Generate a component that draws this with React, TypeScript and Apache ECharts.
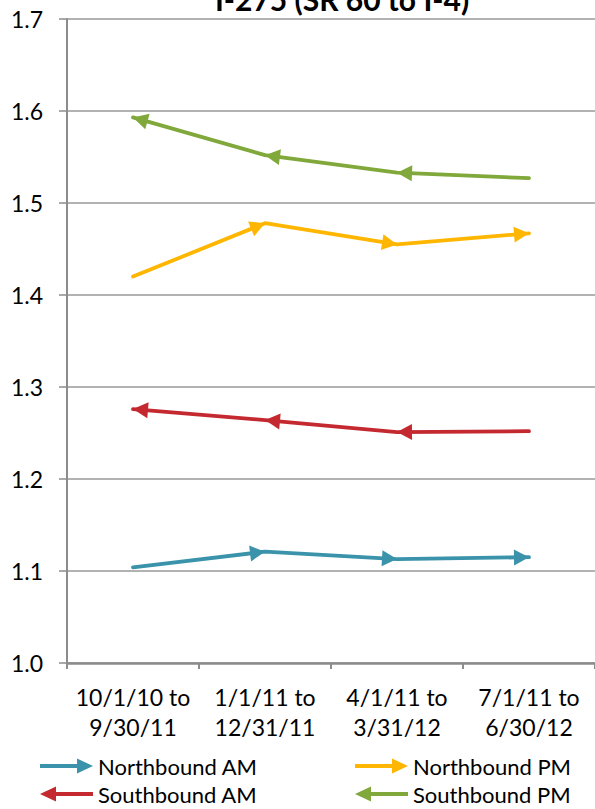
import React, { useEffect, useRef } from 'react';
import * as echarts from 'echarts';

const titleText = 'I-275 (SR 60 to I-4)';
const categories = ['10/1/10 to\n9/30/11', '1/1/11 to\n12/31/11', '4/1/11 to\n3/31/12', '7/1/11 to\n6/30/12'];
const northboundAM = [1.104, 1.121, 1.113, 1.115];
const northboundPM = [1.42, 1.478, 1.455, 1.467];
const southboundAM = [1.276, 1.264, 1.251, 1.252];
const southboundPM = [1.593, 1.552, 1.533, 1.527];
const yMin = 1.0;
const yMax = 1.7;
const yInterval = 0.1;

const seriesDefs = [
  { name: 'Northbound AM', data: northboundAM, color: '#3A93AA', dir: 'north' },
  { name: 'Northbound PM', data: northboundPM, color: '#FFB600', dir: 'north' },
  { name: 'Southbound AM', data: southboundAM, color: '#C4292F', dir: 'south' },
  { name: 'Southbound PM', data: southboundPM, color: '#80A83A', dir: 'south' },
];

const legendPos = [
  { left: 40, top: 755 },
  { left: 355, top: 755 },
  { left: 40, top: 783 },
  { left: 355, top: 783 },
];

const RIGHT_ICON = 'path://M0,5.5L37,5.5L37,0L53,7.5L37,15L37,9.5L0,9.5Z';
const LEFT_ICON = 'path://M53,5.5L16,5.5L16,0L0,7.5L16,15L16,9.5L53,9.5Z';

const FONT = 'Lato, "Open Sans", sans-serif';
const ARROW_LEN = 15;
const ARROW_W = 16;

export default function App() {
  const ref = useRef<HTMLDivElement>(null);
  useEffect(() => {
    if (!ref.current) return;
    const chart = echarts.init(ref.current, undefined, { renderer: 'svg' });
    const baseOption: any = {
      animation: false,
      grid: { left: 67, right: 0, top: 19, bottom: 146, containLabel: false },
      graphic: [
        {
          type: 'text',
          x: 342,
          y: -1,
          style: {
            text: titleText,
            font: `bold 30px ${FONT}`,
            fill: '#000',
            textAlign: 'center',
            textVerticalAlign: 'middle',
          },
        },
      ],
      xAxis: {
        type: 'category',
        data: categories,
        boundaryGap: true,
        axisLine: { show: true, lineStyle: { color: '#8c8c8c', width: 2.5 } },
        axisTick: { show: true, length: 6, alignWithLabel: false, lineStyle: { color: '#8c8c8c', width: 2 } },
        axisLabel: { fontFamily: FONT, fontSize: 23, color: '#000', lineHeight: 30, margin: 19, interval: 0 },
        splitLine: { show: false },
      },
      yAxis: {
        type: 'value',
        min: yMin,
        max: yMax,
        interval: yInterval,
        axisLine: { show: true, lineStyle: { color: '#8c8c8c', width: 2 } },
        axisTick: { show: true, length: 8, lineStyle: { color: '#8c8c8c', width: 1.5 } },
        axisLabel: {
          fontFamily: FONT,
          fontSize: 23,
          color: '#000',
          margin: 24,
          formatter: (v: number) => v.toFixed(1),
        },
        splitLine: { show: true, lineStyle: { color: '#999', width: 1.5 } },
      },
      legend: seriesDefs.map((s, i) => ({
        left: legendPos[i].left,
        top: legendPos[i].top,
        padding: 0,
        itemWidth: 53,
        itemHeight: 15,
        selectedMode: false,
        textStyle: { fontFamily: FONT, fontSize: 22, color: '#000' },
        data: [
          {
            name: s.name,
            icon: s.dir === 'north' ? RIGHT_ICON : LEFT_ICON,
            itemStyle: { color: s.color, borderWidth: 0 },
          },
        ],
      })),
      series: seriesDefs.map((s) => ({
        name: s.name,
        type: 'line',
        data: s.data.map((v) => ({ value: v, symbol: 'none' })),
        symbol: 'none',
        lineStyle: { color: s.color, width: 3.8, cap: 'round', join: 'round' },
        itemStyle: { color: s.color },
        emphasis: { disabled: true },
      })),
    };
    chart.setOption(baseOption);

    const series = seriesDefs.map((s) => ({
      name: s.name,
      data: s.data.map((v, i) => {
        const j = s.dir === 'north' ? i - 1 : i + 1;
        if (j < 0 || j >= s.data.length) return { value: v, symbol: 'none' };
        const p = chart.convertToPixel({ xAxisIndex: 0, yAxisIndex: 0 }, [i, v]) as number[];
        const q = chart.convertToPixel({ xAxisIndex: 0, yAxisIndex: 0 }, [j, s.data[j]]) as number[];
        const dx = p[0] - q[0];
        const dy = p[1] - q[1];
        const len = Math.hypot(dx, dy) || 1;
        const ux = dx / len;
        const uy = dy / len;
        const angle = (Math.atan2(-dy, dx) * 180) / Math.PI - 90;
        return {
          value: v,
          symbol: 'triangle',
          symbolSize: [ARROW_W, ARROW_LEN],
          symbolRotate: angle,
          symbolOffset: [-ux * ARROW_LEN / 2, -uy * ARROW_LEN / 2],
        };
      }),
    }));
    chart.setOption({ series });

    return () => chart.dispose();
  }, []);
  return <div ref={ref} style={{ position: 'absolute', left: 0, top: 0, width: 595, height: 809 }} />;
}
